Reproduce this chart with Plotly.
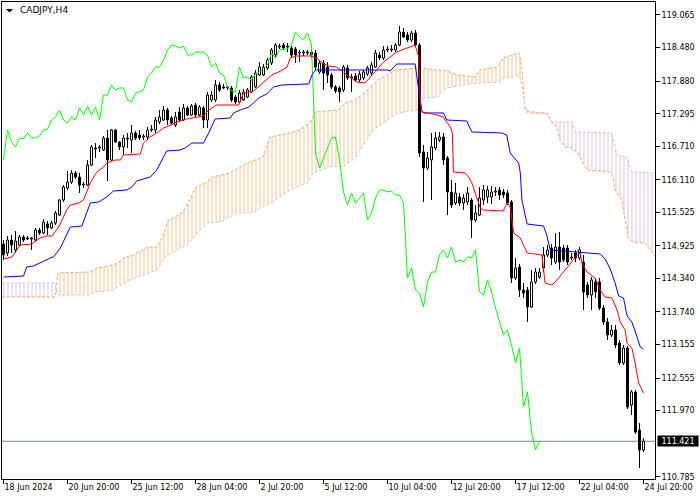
import plotly.graph_objects as go

chart_title = "CADJPY,H4"

time_tick_bars = [0, 16, 32, 48, 64, 80, 96, 112, 128, 144, 160]
time_tick_labels = ["18 Jun 2024", "20 Jun 20:00", "25 Jun 12:00", "28 Jun 04:00", "2 Jul 20:00",
                    "5 Jul 12:00", "10 Jul 04:00", "12 Jul 20:00", "17 Jul 12:00", "22 Jul 04:00",
                    "24 Jul 20:00"]
price_tick_values = [119.065, 118.480, 117.880, 117.295, 116.710, 116.110, 115.525, 114.925,
                     114.340, 113.740, 113.155, 112.555, 111.970, 110.785]
price_tick_labels = ["119.065", "118.480", "117.880", "117.295", "116.710", "116.110", "115.525",
                     "114.925", "114.340", "113.740", "113.155", "112.555", "111.970", "110.785"]
current_price = 111.421

bar_open = [114.958, 114.797, 115.030, 114.851, 114.940, 115.084, 115.066, 115.048, 115.030, 115.209,
            115.155, 115.317, 115.245, 115.335, 115.478, 115.747, 115.962, 116.070, 116.231, 116.160,
            116.016, 116.016, 116.375, 116.680, 116.680, 116.644, 116.859, 116.465, 117.003, 116.787,
            116.698, 116.859, 116.823, 116.949, 116.913, 116.877, 116.877, 117.003, 117.003, 117.146,
            117.182, 117.361, 117.218, 117.092, 117.325, 117.182, 117.397, 117.272, 117.451, 117.272,
            117.397, 117.182, 117.541, 117.541, 117.810, 117.774, 117.774, 117.756, 117.594, 117.505,
            117.541, 117.594, 117.684, 117.774, 117.989, 117.989, 118.115, 118.204, 118.348, 118.491,
            118.527, 118.491, 118.473, 118.455, 118.384, 118.384, 118.384, 118.401, 118.384, 118.043,
            118.204, 118.132, 117.989, 117.774, 117.756, 117.720, 118.115, 117.935, 117.971, 117.899,
            117.935, 118.007, 118.025, 118.132, 118.348, 118.294, 118.437, 118.437, 118.437, 118.527,
            118.760, 118.706, 118.617, 118.742, 118.527, 116.608, 116.321, 116.465, 116.680, 116.823,
            116.877, 116.500, 115.891, 115.693, 115.801, 115.693, 115.711, 115.747, 115.389, 115.478,
            115.747, 115.801, 115.801, 115.891, 115.927, 115.891, 115.873, 115.711, 114.348, 114.546,
            114.133, 114.133, 113.828, 114.277, 114.366, 114.528, 114.761, 114.886, 114.635, 114.904,
            114.886, 114.886, 114.707, 114.797, 114.707, 114.635, 114.223, 114.044, 114.277, 114.277,
            113.810, 113.559, 113.326, 113.416, 113.183, 112.824, 113.093, 112.071, 112.304, 111.622,
            111.264]
bar_high = [115.030, 115.102, 115.120, 115.191, 115.120, 115.120, 115.102, 115.084, 115.245, 115.245,
            115.407, 115.371, 115.371, 115.550, 115.765, 116.016, 116.267, 116.285, 116.267, 116.231,
            116.070, 116.465, 116.734, 116.769, 116.734, 116.895, 117.003, 117.021, 117.021, 116.805,
            116.913, 116.949, 117.092, 116.985, 117.003, 116.931, 117.056, 117.092, 117.236, 117.361,
            117.433, 117.397, 117.254, 117.325, 117.415, 117.469, 117.433, 117.469, 117.487, 117.451,
            117.433, 117.684, 117.702, 117.899, 117.863, 117.828, 117.792, 117.792, 117.630, 117.720,
            117.738, 117.756, 117.989, 118.079, 118.222, 118.186, 118.294, 118.473, 118.563, 118.545,
            118.563, 118.563, 118.509, 118.491, 118.437, 118.437, 118.437, 118.455, 118.437, 118.258,
            118.258, 118.222, 118.025, 117.810, 117.792, 118.168, 118.168, 118.007, 118.025, 118.061,
            118.079, 118.150, 118.222, 118.437, 118.401, 118.509, 118.509, 118.527, 118.563, 118.868,
            118.832, 118.760, 118.778, 118.796, 118.563, 116.734, 116.608, 116.949, 116.967, 116.967,
            116.949, 116.536, 116.106, 116.052, 115.873, 115.855, 115.980, 115.783, 115.658, 115.980,
            116.016, 115.998, 115.998, 115.980, 115.980, 115.945, 115.927, 115.747, 114.707, 114.599,
            114.259, 114.187, 114.492, 114.528, 114.528, 114.904, 114.940, 114.958, 115.155, 115.173,
            114.940, 114.940, 114.797, 114.851, 114.904, 114.761, 114.277, 114.366, 114.348, 114.348,
            113.864, 113.631, 113.505, 113.505, 113.236, 113.147, 113.129, 112.340, 112.340, 111.748,
            111.479]
bar_low = [114.671, 114.743, 114.797, 114.797, 114.922, 114.994, 115.030, 114.851, 115.012, 115.120,
           115.137, 115.120, 115.227, 115.299, 115.460, 115.711, 115.927, 116.034, 116.124, 115.873,
           115.962, 115.998, 116.357, 116.500, 116.608, 116.626, 116.088, 116.447, 116.769, 116.644,
           116.554, 116.680, 116.590, 116.823, 116.823, 116.823, 116.841, 116.967, 116.949, 117.110,
           117.164, 117.092, 117.092, 117.056, 117.146, 117.164, 117.254, 117.254, 117.236, 117.254,
           117.038, 117.038, 117.505, 117.505, 117.684, 117.738, 117.720, 117.505, 117.469, 117.487,
           117.523, 117.577, 117.666, 117.756, 117.971, 117.971, 118.079, 118.168, 118.294, 118.455,
           118.437, 118.401, 118.312, 118.204, 118.222, 118.330, 118.348, 118.294, 118.079, 118.007,
           117.720, 117.846, 117.738, 117.666, 117.505, 117.684, 117.899, 117.684, 117.863, 117.863,
           117.899, 117.971, 117.989, 118.115, 118.258, 118.258, 118.401, 118.401, 118.401, 118.509,
           118.653, 118.581, 118.581, 118.491, 116.518, 115.711, 116.285, 115.747, 116.644, 116.787,
           116.375, 115.478, 115.604, 115.658, 115.640, 115.568, 115.658, 115.066, 115.353, 115.460,
           115.658, 115.693, 115.676, 115.819, 115.747, 115.783, 115.658, 114.259, 114.313, 114.008,
           113.990, 113.559, 113.810, 114.241, 114.330, 114.456, 114.725, 114.582, 114.599, 114.492,
           114.635, 114.582, 114.671, 114.635, 114.671, 113.775, 113.990, 113.775, 113.990, 113.775,
           113.505, 113.236, 113.290, 113.093, 112.788, 112.788, 111.999, 111.891, 111.551, 110.941,
           111.228]
bar_close = [114.761, 115.030, 114.940, 115.012, 115.084, 115.030, 115.048, 115.066, 115.209, 115.155,
             115.353, 115.245, 115.335, 115.514, 115.747, 115.980, 116.070, 116.231, 116.160, 116.016,
             116.034, 116.375, 116.698, 116.662, 116.698, 116.859, 116.465, 117.003, 116.787, 116.698,
             116.859, 116.841, 116.949, 116.859, 116.859, 116.895, 117.003, 117.021, 117.182, 117.236,
             117.361, 117.182, 117.128, 117.236, 117.182, 117.397, 117.272, 117.433, 117.272, 117.415,
             117.182, 117.630, 117.630, 117.810, 117.720, 117.756, 117.756, 117.541, 117.505, 117.666,
             117.684, 117.720, 117.953, 118.025, 118.132, 118.132, 118.258, 118.437, 118.527, 118.509,
             118.473, 118.509, 118.348, 118.348, 118.401, 118.401, 118.401, 118.348, 118.132, 118.204,
             118.025, 117.989, 117.774, 117.702, 117.684, 118.132, 117.935, 117.953, 117.899, 118.007,
             118.043, 118.115, 118.168, 118.384, 118.294, 118.437, 118.455, 118.455, 118.527, 118.760,
             118.670, 118.617, 118.742, 118.527, 116.590, 116.321, 116.500, 116.698, 116.859, 116.877,
             116.465, 115.891, 115.658, 115.873, 115.693, 115.783, 115.873, 115.389, 115.514, 115.783,
             115.927, 115.927, 115.891, 115.909, 115.837, 115.837, 115.693, 114.348, 114.528, 114.133,
             114.079, 113.828, 114.277, 114.456, 114.456, 114.761, 114.851, 114.707, 114.904, 114.635,
             114.671, 114.635, 114.725, 114.707, 114.851, 114.097, 114.044, 114.313, 114.097, 113.810,
             113.559, 113.326, 113.416, 113.147, 112.824, 113.093, 112.035, 112.304, 111.587, 111.264,
             111.421]

tenkan_bar = [0, 2.1, 4.2, 7.1, 9.2, 10.8, 12.1, 13.8, 15.8, 16.7, 18.8, 20, 21.7, 23.3, 25, 25.8, 27.9,
              29.2, 30, 34.2, 35, 36.7, 38.3, 40, 41.3, 43.3, 45.8, 47.5, 50, 51.3, 53.3, 58.8, 60, 62.5,
              64.2, 65.8, 67.1, 68.8, 70.9, 71.7, 73.3, 76.7, 78.3, 79.6, 81.3, 83.3, 84.6, 85.9, 88.3,
              90.4, 92.1, 95, 98.3, 101.7, 102.9, 103.8, 104.2, 104.6, 107.4, 109.9, 110.9, 111.7, 112.2,
              112.5, 115.4, 116.3, 117.1, 119.2, 120, 124.9, 125.9, 126.7, 127.5, 129.2, 130.9, 134.6,
              135.4, 137.1, 138.4, 140.9, 143.4, 144.2, 144.6, 145.9, 147.9, 149.2, 150.4, 152.1, 153.4,
              154.2, 155.4, 155.9, 157.1, 157.9, 158.8, 160]
tenkan_val = [114.689, 114.725, 114.940, 114.958, 115.066, 115.102, 115.102, 115.263, 115.568, 115.658,
              115.693, 115.747, 116.052, 116.249, 116.339, 116.411, 116.465, 116.465, 116.554, 116.572,
              116.769, 116.877, 116.949, 117.038, 117.074, 117.146, 117.200, 117.218, 117.254, 117.361,
              117.451, 117.451, 117.666, 117.702, 117.810, 117.899, 117.989, 118.043, 118.132, 118.294,
              118.330, 118.330, 118.294, 118.204, 118.150, 118.132, 118.061, 117.989, 117.863, 117.846,
              117.989, 118.222, 118.401, 118.491, 118.527, 118.312, 117.541, 117.325, 117.290, 117.236,
              117.146, 117.056, 116.949, 116.249, 116.231, 116.160, 116.052, 115.604, 115.568, 115.550,
              115.693, 115.622, 115.155, 115.066, 114.797, 114.761, 114.259, 114.223, 114.313, 114.546,
              114.761, 114.797, 114.617, 114.456, 114.348, 114.133, 114.008, 113.990, 113.775, 113.559,
              113.416, 113.183, 113.093, 112.824, 112.465, 112.286]

kijun_bar = [0, 5, 5.8, 7.5, 11.7, 12.5, 14.2, 16.7, 19.6, 20.8, 21.7, 23.8, 25.8, 27.5, 30.8, 32.1, 33.3,
             36.7, 38.3, 40, 40.8, 44.2, 45.4, 47.1, 50, 51.3, 52.9, 56.7, 57.5, 59.2, 61.3, 62.5, 63.8,
             65.8, 67.5, 69.6, 76.3, 77.1, 78, 96, 96.7, 98.3, 102.9, 103.7, 104.5, 105, 110, 110.8, 115.8,
             117.1, 124.6, 125.8, 126.7, 127.5, 128.8, 129.2, 129.6, 130.9, 135, 135.8, 136.7, 149.2,
             150.4, 151.7, 152.9, 153.8, 155, 155.9, 157.1, 157.9, 159.2, 160]
kijun_val = [114.366, 114.384, 114.546, 114.564, 114.707, 114.725, 114.886, 115.263, 115.281, 115.514,
             115.693, 115.711, 115.801, 115.909, 115.927, 115.980, 116.088, 116.160, 116.285, 116.518,
             116.626, 116.644, 116.680, 116.769, 116.769, 116.949, 117.200, 117.218, 117.308, 117.361,
             117.415, 117.487, 117.577, 117.648, 117.774, 117.810, 117.828, 117.989, 118.079, 118.079,
             118.061, 118.186, 118.186, 117.774, 117.361, 117.308, 117.308, 117.182, 117.164, 116.967,
             116.949, 116.913, 116.590, 116.518, 116.411, 116.231, 115.747, 115.317, 115.281, 115.120,
             114.851, 114.779, 114.689, 114.510, 114.259, 114.026, 113.990, 113.667, 113.559, 113.398,
             113.111, 113.075]

span_a_bar = [-0.4, 12.9, 13.6, 21.6, 23.4, 26.6, 28.6, 29.9, 32.4, 34.9, 36.1, 38.4, 39.9, 41.1, 44.6,
              46.6, 47.9, 50.4, 52.4, 54.6, 56.6, 57.9, 60.9, 62.9, 64.9, 66.6, 69.1, 71.6, 74.1, 76.6,
              77.9, 83.6, 85.4, 87.9, 89.6, 91.6, 93.6, 95.9, 97.9, 103.4, 104.1, 105.9, 107.9, 110.9,
              113.4, 115.4, 117.9, 119.1, 121.6, 123.4, 124.9, 127.4, 128.9, 129.6, 130.4, 132.4, 135.9,
              137.1, 138.4, 139.1, 140.4, 142.1, 143.6, 144.9, 145.9, 151.6, 152.4, 152.9, 154.6, 155.4,
              156.1, 157.4, 160.4, 161.1, 162.9]
span_a_val = [114.008, 114.008, 114.438, 114.456, 114.528, 114.564, 114.617, 114.707, 114.761, 114.851,
              114.904, 114.904, 115.102, 115.371, 115.514, 115.747, 115.962, 116.052, 116.160, 116.196,
              116.231, 116.285, 116.411, 116.465, 116.518, 116.877, 116.913, 116.949, 117.003, 117.128,
              117.325, 117.361, 117.487, 117.541, 117.630, 117.774, 117.899, 117.989, 118.079, 118.115,
              118.132, 118.097, 118.079, 118.061, 117.989, 117.971, 117.953, 118.079, 118.115, 118.132,
              118.294, 118.348, 118.384, 118.115, 117.361, 117.325, 117.308, 117.128, 117.056, 116.823,
              116.698, 116.680, 116.590, 116.411, 116.285, 116.249, 116.160, 115.927, 115.747, 115.389,
              115.084, 114.994, 114.976, 114.904, 114.743]

span_b_bar = [-0.4, 12.9, 13.4, 21.6, 22.9, 27.4, 31.6, 34.9, 38.4, 40.4, 42.4, 45.9, 49.1, 50.9, 54.1,
              56.6, 58.4, 62.4, 64.1, 67.4, 69.1, 71.6, 75.9, 77.4, 81.6, 85.4, 87.9, 89.1, 90.9, 92.4,
              95.9, 98.6, 103.4, 104.1, 104.9, 108.6, 109.6, 110.9, 114.9, 119.1, 124.1, 124.9, 127.4,
              128.9, 129.6, 130.4, 130.9, 135.9, 136.6, 137.4, 142.1, 142.9, 152.1, 153.4, 155.9, 157.1,
              162.9]
span_b_val = [114.259, 114.259, 114.044, 114.044, 114.097, 114.133, 114.313, 114.402, 114.492, 114.725,
              114.815, 114.940, 115.209, 115.335, 115.353, 115.442, 115.514, 115.514, 115.604, 115.711,
              115.801, 115.927, 116.052, 116.231, 116.339, 116.357, 116.500, 116.644, 116.823, 117.003,
              117.182, 117.308, 117.361, 117.541, 117.577, 117.594, 117.684, 117.756, 117.810, 117.846,
              117.863, 117.935, 117.953, 117.989, 117.774, 117.415, 117.308, 117.290, 117.182, 117.146,
              117.146, 116.967, 116.949, 116.554, 116.518, 116.249, 116.231]

CHIKOU_SHIFT = 26
SANDY = "#F4A460"
THISTLE = "#D8BFD8"

n_bars = len(bar_close)
bars = list(range(n_bars))

fig = go.Figure()


def part(xs, ys, lo, hi):
    px = [x for x in xs if lo <= x <= hi]
    py = [y for x, y in zip(xs, ys) if lo <= x <= hi]
    return px, py


# Ichimoku cloud hatching
for lo, hi, col, op in [(-1, 13.0, THISTLE, 0.95), (13.3, 129.7, SANDY, 0.7),
                        (130.3, 163.5, THISTLE, 0.95)]:
    ax, ay = part(span_a_bar, span_a_val, lo, hi)
    bx, by = part(span_b_bar, span_b_val, lo, hi)
    fig.add_trace(go.Scatter(x=ax, y=ay, mode="lines", line=dict(width=0, color="rgba(0,0,0,0)"),
                             hoverinfo="skip"))
    fig.add_trace(go.Scatter(x=bx, y=by, mode="lines", line=dict(width=0, color="rgba(0,0,0,0)"),
                             fill="tonexty", fillcolor="rgba(0,0,0,0)",
                             fillpattern=dict(shape="|", size=4, solidity=0.25, fgcolor=col,
                                              fgopacity=op, bgcolor="rgba(0,0,0,0)"),
                             hoverinfo="skip"))

fig.add_trace(go.Scatter(x=span_a_bar, y=span_a_val, mode="lines",
                         line=dict(color=SANDY, width=1, dash="3px,2px"), hoverinfo="skip"))
fig.add_trace(go.Scatter(x=span_b_bar, y=span_b_val, mode="lines",
                         line=dict(color=THISTLE, width=1, dash="3px,2px"), hoverinfo="skip"))

# candles: wicks
wx, wy = [], []
for i in bars:
    o, h, l, c = bar_open[i], bar_high[i], bar_low[i], bar_close[i]
    top, bot = max(o, c), min(o, c)
    wx += [i, i, None, i, i, None]
    wy += [h, top, None, bot, l, None]
fig.add_trace(go.Scatter(x=wx, y=wy, mode="lines", line=dict(color="black", width=1),
                         hoverinfo="skip", connectgaps=False))

# candles: bodies
half = 0.25
for up in (True, False):
    bx, by = [], []
    for i in bars:
        o, c = bar_open[i], bar_close[i]
        if (c >= o) != up:
            continue
        top, bot = max(o, c), min(o, c)
        bx += [i - half, i + half, i + half, i - half, i - half, None]
        by += [bot, bot, top, top, bot, None]
    fig.add_trace(go.Scatter(x=bx, y=by, mode="lines", fill="toself",
                             fillcolor="white" if up else "black",
                             line=dict(color="black", width=1), hoverinfo="skip"))

# Chikou span (close shifted back)
fig.add_trace(go.Scatter(x=[i - CHIKOU_SHIFT for i in bars[CHIKOU_SHIFT:]],
                         y=bar_close[CHIKOU_SHIFT:], mode="lines",
                         line=dict(color="#00FF00", width=1), hoverinfo="skip"))
fig.add_trace(go.Scatter(x=kijun_bar, y=kijun_val, mode="lines",
                         line=dict(color="#0000FF", width=1), hoverinfo="skip"))
fig.add_trace(go.Scatter(x=tenkan_bar, y=tenkan_val, mode="lines",
                         line=dict(color="#FF0000", width=1), hoverinfo="skip"))

fig.add_shape(type="line", xref="paper", x0=0, x1=1, yref="y", y0=current_price, y1=current_price,
              line=dict(color="#778899", width=1), layer="below")

fig.add_shape(type="path", xref="paper", yref="paper",
              path="M 0.0061 0.9853 L 0.0169 0.9853 L 0.0115 0.9780 Z",
              fillcolor="black", line=dict(width=0))

fig.add_annotation(text=chart_title, xref="paper", yref="paper", x=0.025, y=0.9822,
                   xanchor="left", yanchor="middle", showarrow=False,
                   font=dict(family="DejaVu Sans", size=9, color="black"))

fig.add_annotation(text=f"{current_price:.3f}", xref="paper", yref="y", x=1, y=current_price,
                   xanchor="left", yanchor="middle", xshift=2, showarrow=False,
                   bgcolor="black", width=40, height=10, align="center", borderpad=0,
                   font=dict(family="DejaVu Sans", size=8, color="white"))

axis_font = dict(family="DejaVu Sans", size=8, color="black")
fig.update_layout(
    width=700, height=500,
    margin=dict(l=2, r=45, t=2, b=21, autoexpand=False),
    paper_bgcolor="white", plot_bgcolor="white",
    showlegend=False, hovermode=False,
    xaxis=dict(range=[-0.375, 162.875], tickmode="array", tickvals=time_tick_bars,
               ticktext=time_tick_labels, ticks="outside", ticklen=4, tickcolor="black",
               tickwidth=1, showline=True, linecolor="black", linewidth=1, mirror=True,
               showgrid=False, zeroline=False, ticklabelposition="outside right",
               tickfont=axis_font),
    yaxis=dict(range=[110.744, 119.298], side="right", tickmode="array",
               tickvals=price_tick_values, ticktext=price_tick_labels, ticks="outside",
               ticklen=4, tickcolor="black", tickwidth=1, showline=True, linecolor="black",
               linewidth=1, mirror=True, showgrid=False, zeroline=False, tickfont=axis_font),
)

fig.write_html("out.html", config={"displayModeBar": False},
               post_script="document.body.style.margin='0';document.body.style.overflow='hidden';")
